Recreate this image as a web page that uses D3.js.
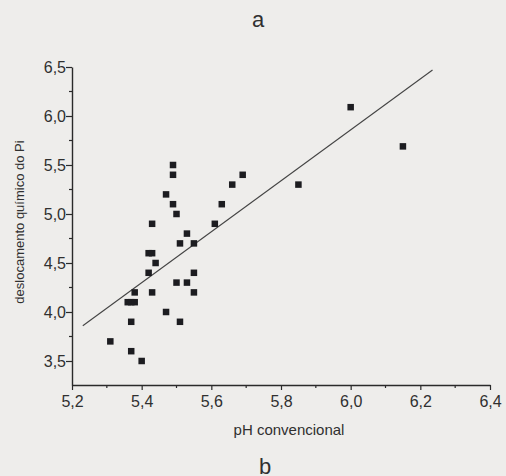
<!DOCTYPE html>
<html>
<head>
<meta charset="utf-8">
<script src="https://cdn.jsdelivr.net/npm/d3@7"></script>
<style>
  body { margin: 0; background: #eeedeb; }
  svg { display: block; font-family: "Liberation Sans", Arial, sans-serif; }
</style>
</head>
<body>
<div id="chart"></div>
<script>
// Data
const phConv = [5.49, 5.49, 5.47, 5.49, 5.50, 5.43, 5.61, 5.63, 5.66, 5.69,
                5.53, 5.51, 5.55, 5.42, 5.43, 5.44, 5.42, 5.55, 5.50, 5.53,
                5.38, 5.43, 5.55, 5.36, 5.37, 5.38, 5.47, 5.37, 5.51, 5.31,
                5.37, 5.40, 6.00, 6.15, 5.85];
const shiftPi = [5.50, 5.40, 5.20, 5.10, 5.00, 4.90, 4.90, 5.10, 5.30, 5.40,
                 4.80, 4.70, 4.70, 4.60, 4.60, 4.50, 4.40, 4.40, 4.30, 4.30,
                 4.20, 4.20, 4.20, 4.10, 4.10, 4.10, 4.00, 3.90, 3.90, 3.70,
                 3.60, 3.50, 6.09, 5.69, 5.30];
const fitX = [5.231, 6.235];
const fitY = [3.86, 6.47];
const xTicks = [5.2, 5.4, 5.6, 5.8, 6.0, 6.2, 6.4];
const yTicks = [3.5, 4.0, 4.5, 5.0, 5.5, 6.0, 6.5];

const width = 506;
const height = 476;
const margin = {top: 67, right: 16, bottom: 91, left: 72};
const innerHeight = height - margin.top - margin.bottom;

const data = phConv.map((x, i) => ({x: x, y: shiftPi[i]}));

const svg = d3.select("#chart")
  .append("svg")
    .attr("width", width)
    .attr("height", height);

const innerChart = svg
  .append("g")
    .attr("transform", `translate(${margin.left}, ${margin.top})`);

// Scales
const xScale = d3.scaleLinear()
  .domain([5.2, 6.4])
  .range([0, 418]);

const yScale = d3.scaleLinear()
  .domain([3.255, 6.5])
  .range([innerHeight, 0]);

const fmt = d => d3.format(".1f")(d).replace(".", ",");
const ink = "#2a2a2a";

// Minor ticks
const xMinor = d3.range(5.3, 6.4, 0.2);
const yMinor = d3.range(3.75, 6.5, 0.5);

innerChart.append("g")
  .selectAll("line")
  .data(xMinor)
  .join("line")
    .attr("x1", d => xScale(d))
    .attr("x2", d => xScale(d))
    .attr("y1", innerHeight)
    .attr("y2", innerHeight + 3)
    .attr("stroke", ink)
    .attr("stroke-width", 1.2);

innerChart.append("g")
  .selectAll("line")
  .data(yMinor)
  .join("line")
    .attr("x1", -3)
    .attr("x2", 0)
    .attr("y1", d => yScale(d))
    .attr("y2", d => yScale(d))
    .attr("stroke", ink)
    .attr("stroke-width", 1.2);

// Axes
const bottomAxis = d3.axisBottom(xScale)
  .tickValues(xTicks)
  .tickFormat(fmt)
  .tickSize(5)
  .tickSizeOuter(0);
const xAxis = innerChart
  .append("g")
    .attr("class", "axis-x")
    .attr("transform", `translate(0, ${innerHeight})`)
    .call(bottomAxis);

const leftAxis = d3.axisLeft(yScale)
  .tickValues(yTicks)
  .tickFormat(fmt)
  .tickSize(6)
  .tickSizeOuter(0);
const yAxis = innerChart
  .append("g")
    .attr("class", "axis-y")
    .call(leftAxis);

[xAxis, yAxis].forEach(a => {
  a.attr("font-size", null).attr("font-family", null);
  a.select(".domain").attr("stroke", ink).attr("stroke-width", 1.4);
  a.selectAll(".tick line").attr("stroke", ink).attr("stroke-width", 1.2);
  a.selectAll(".tick text")
    .attr("fill", "#303030")
    .style("font-size", "16px");
});
xAxis.selectAll(".tick text").attr("y", 11);
yAxis.selectAll(".tick text").attr("x", -6).attr("dy", "0.32em");

// Fit line
innerChart
  .append("line")
    .attr("x1", xScale(fitX[0]))
    .attr("y1", yScale(fitY[0]))
    .attr("x2", xScale(fitX[1]))
    .attr("y2", yScale(fitY[1]))
    .attr("stroke", "#444")
    .attr("stroke-width", 1.1);

// Points
const size = 6.5;
innerChart
  .append("g")
  .selectAll("rect")
  .data(data)
  .join("rect")
    .attr("x", d => xScale(d.x) - size / 2)
    .attr("y", d => yScale(d.y) - size / 2)
    .attr("width", size)
    .attr("height", size)
    .attr("fill", "#1c1c20");

// Labels
svg.append("text")
    .attr("x", 289)
    .attr("y", 435)
    .attr("text-anchor", "middle")
    .attr("fill", "#303030")
    .style("font-size", "15px")
    .text("pH convencional");

svg.append("text")
    .attr("transform", "translate(24, 222) rotate(-90)")
    .attr("text-anchor", "middle")
    .attr("fill", "#303030")
    .style("font-size", "13px")
    .text("deslocamento químico do Pi");

svg.append("text")
    .attr("x", 258)
    .attr("y", 27)
    .attr("text-anchor", "middle")
    .attr("fill", "#303030")
    .style("font-size", "22px")
    .text("a");

svg.append("text")
    .attr("x", 265)
    .attr("y", 474)
    .attr("text-anchor", "middle")
    .attr("fill", "#303030")
    .style("font-size", "22px")
    .text("b");
</script>
</body>
</html>
